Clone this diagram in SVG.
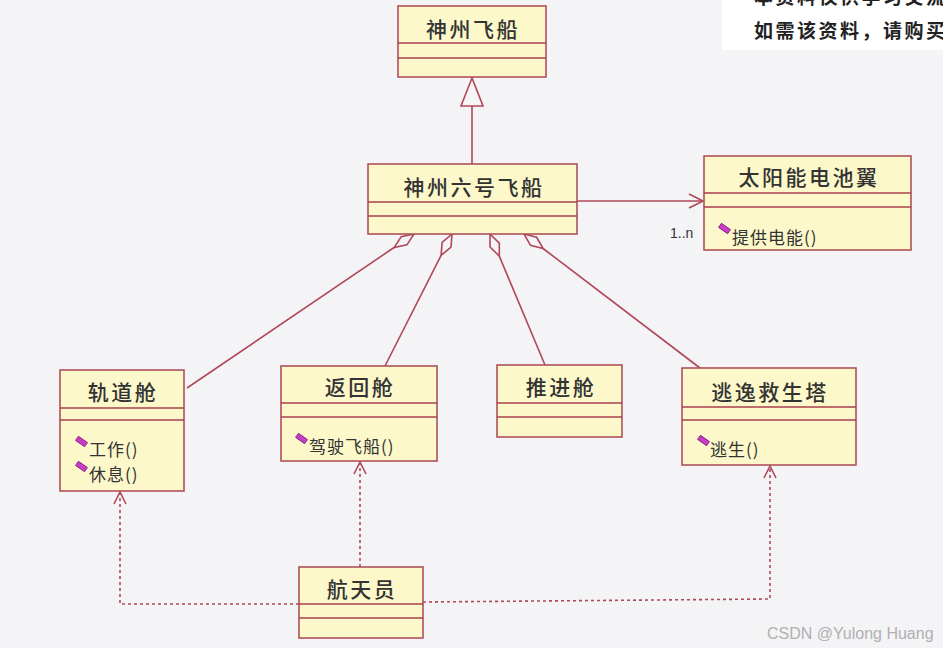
<svg xmlns="http://www.w3.org/2000/svg" width="943" height="648" viewBox="0 0 943 648">
<style>
.box{fill:#fcf8ca;stroke:#b0505c;stroke-width:1.6}
.sep{stroke:#a8404c;stroke-width:1.6}
.title{font-family:"Noto Sans CJK SC","Liberation Sans",sans-serif;font-size:21px;font-weight:500;fill:#333;text-anchor:middle;letter-spacing:2.5px}
.m{font-family:"Noto Sans CJK SC","Liberation Sans",sans-serif;font-size:17px;fill:#333;letter-spacing:1px}
.ico{fill:#c83cc8;stroke:#7a1a7a;stroke-width:0.8}
.c{fill:none;stroke:#b04858;stroke-width:1.6}
.d{fill:none;stroke:#b04858;stroke-width:1.6;stroke-dasharray:3,3}
.hd{fill:#f6f4f6;stroke:#b04858;stroke-width:1.6}
.nt{font-family:"Noto Sans CJK SC",sans-serif;font-size:19px;font-weight:bold;fill:#222;letter-spacing:2.5px}
</style>
<rect width="943" height="648" fill="#f4f3f6"/>
<g id="note">
<rect x="722" y="0" width="221" height="50" fill="#ffffff"/>
<text class="nt" x="754" y="4">本资料仅供学习交流</text>
<text class="nt" x="754" y="38">如需该资料，请购买</text>
</g>
<g id="connectors">
<line class="c" x1="472" y1="164" x2="472" y2="106"/>
<polygon class="hd" points="472,78 461,106 483,106"/>
<line class="c" x1="577" y1="201" x2="702" y2="201"/>
<polyline class="c" points="689,194 703,201 689,208"/>
<text x="670" y="238" font-family="Liberation Sans, sans-serif" font-size="14" fill="#333">1..n</text>
<polygon class="hd" points="414,234 406.9,244.9 394.1,247.5 401.3,236.6"/>
<line class="c" x1="394.1" y1="247.5" x2="187" y2="388"/>
<polygon class="hd" points="452,234 451,247 441.1,255.4 442.1,242.4"/>
<line class="c" x1="441.1" y1="255.4" x2="385" y2="366"/>
<polygon class="hd" points="490,234 499.3,243.1 499.3,256.1 490,247"/>
<line class="c" x1="499.3" y1="256.1" x2="545" y2="365"/>
<polygon class="hd" points="524,234 536.6,237.3 543.1,248.5 530.5,245.3"/>
<line class="c" x1="543.1" y1="248.5" x2="700" y2="368"/>
<polyline class="d" points="299,604 120,604 120,493"/>
<polyline class="c" points="114,504 120,492 126,504"/>
<polyline class="d" points="360,567 360,463"/>
<polyline class="c" points="354,474 360,462 366,474"/>
<polyline class="d" points="423,602 770,599 770,467"/>
<polyline class="c" points="764,478 770,466 776,478"/>
</g>
<g id="shenzhou">
<rect class="box" x="398" y="6" width="148" height="71"/>
<line class="sep" x1="398" y1="43" x2="546" y2="43"/>
<line class="sep" x1="398" y1="58" x2="546" y2="58"/>
<text class="title" x="473" y="37">神州飞船</text>
</g>
<g id="shenzhou6">
<rect class="box" x="368" y="164" width="209" height="70"/>
<line class="sep" x1="368" y1="202" x2="577" y2="202"/>
<line class="sep" x1="368" y1="216" x2="577" y2="216"/>
<text class="title" x="474" y="195">神州六号飞船</text>
</g>
<g id="solar">
<rect class="box" x="704" y="156" width="207" height="94"/>
<line class="sep" x1="704" y1="193" x2="911" y2="193"/>
<line class="sep" x1="704" y1="207" x2="911" y2="207"/>
<text class="title" x="809" y="185">太阳能电池翼</text>
<rect class="ico" x="719" y="226" width="11" height="5" transform="rotate(35 724.5 228.5)"/>
<text class="m" x="732" y="244">提供电能()</text>
</g>
<g id="guidao">
<rect class="box" x="60" y="370" width="124" height="121"/>
<line class="sep" x1="60" y1="408" x2="184" y2="408"/>
<line class="sep" x1="60" y1="420" x2="184" y2="420"/>
<text class="title" x="123" y="400">轨道舱</text>
<rect class="ico" x="76" y="439" width="11" height="5" transform="rotate(35 81.5 441.5)"/>
<text class="m" x="89" y="456">工作()</text>
<rect class="ico" x="76" y="464" width="11" height="5" transform="rotate(35 81.5 466.5)"/>
<text class="m" x="89" y="481">休息()</text>
</g>
<g id="fanhui">
<rect class="box" x="281" y="366" width="156" height="95"/>
<line class="sep" x1="281" y1="403" x2="437" y2="403"/>
<line class="sep" x1="281" y1="417" x2="437" y2="417"/>
<text class="title" x="360" y="395">返回舱</text>
<rect class="ico" x="296" y="436" width="11" height="5" transform="rotate(35 301.5 438.5)"/>
<text class="m" x="309" y="453">驾驶飞船()</text>
</g>
<g id="tuijin">
<rect class="box" x="497" y="365" width="125" height="72"/>
<line class="sep" x1="497" y1="403" x2="622" y2="403"/>
<line class="sep" x1="497" y1="417" x2="622" y2="417"/>
<text class="title" x="561" y="395">推进舱</text>
</g>
<g id="taoyi">
<rect class="box" x="682" y="368" width="174" height="97"/>
<line class="sep" x1="682" y1="407" x2="856" y2="407"/>
<line class="sep" x1="682" y1="420" x2="856" y2="420"/>
<text class="title" x="770" y="400">逃逸救生塔</text>
<rect class="ico" x="698" y="438" width="11" height="5" transform="rotate(35 703.5 440.5)"/>
<text class="m" x="710" y="456">逃生()</text>
</g>
<g id="astronaut">
<rect class="box" x="299" y="567" width="124" height="71"/>
<line class="sep" x1="299" y1="604" x2="423" y2="604"/>
<line class="sep" x1="299" y1="618" x2="423" y2="618"/>
<text class="title" x="362" y="597">航天员</text>
</g>
<text x="767" y="639" font-family="Liberation Sans, sans-serif" font-size="16" fill="#b0b0b0">CSDN @Yulong Huang</text>
</svg>
